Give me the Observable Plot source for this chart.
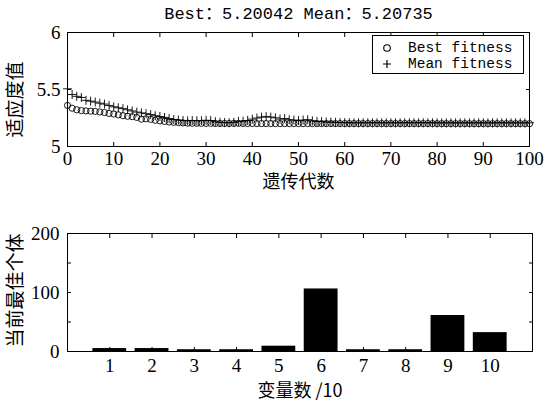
<!DOCTYPE html>
<html>
<head>
<meta charset="utf-8">
<script src="https://cdn.jsdelivr.net/npm/d3@7"></script>
<script src="https://cdn.jsdelivr.net/npm/@observablehq/plot@0.6"></script>
<style>
  html, body { margin: 0; padding: 0; background: #fff; }
  #wrap { position: relative; width: 547px; height: 404px; background: #fff; overflow: hidden; }
  #top { position: absolute; left: 0; top: 0; }
  #bottom { position: absolute; left: 0; top: 200px; }
  #legend { position: absolute; left: 372px; top: 35px; width: 150px; height: 37px; border: 1px solid #000; background: #fff;
            font-family: 'Liberation Mono', 'DejaVu Sans Mono', monospace; font-size: 14.5px; color: #000; }
  #legend .row { position: absolute; left: 0; height: 16px; line-height: 16px; white-space: pre; }
  #legend svg { position: absolute; left: 7px; top: 1px; }
  #legend span { position: absolute; left: 35px; top: 0; }
</style>
</head>
<body>
<div id="wrap">
  <div id="top"></div>
  <div id="bottom"></div>
  <div id="legend">
    <div class="row" style="top:4px"><svg width="14" height="14"><circle cx="7" cy="7" r="3.3" fill="none" stroke="#000" stroke-width="1.1"/></svg><span>Best fitness</span></div>
    <div class="row" style="top:20px"><svg width="14" height="14"><path d="M7,3V11M3,7H11" stroke="#000" stroke-width="1.2"/></svg><span>Mean fitness</span></div>
  </div>
</div>
<script>
// ---------- data ----------
const titleText = "Best：5.20042 Mean：5.20735";
const seriesNames = ["Best fitness", "Mean fitness"];

const bestFitness = [
  5.360, 5.336, 5.322, 5.315, 5.312, 5.310, 5.308, 5.303, 5.298, 5.290,
  5.285, 5.278, 5.270, 5.265, 5.262, 5.255, 5.240, 5.243, 5.238, 5.230,
  5.225, 5.220, 5.215, 5.212, 5.210, 5.207, 5.205, 5.204, 5.204, 5.203,
  5.203, 5.203, 5.202, 5.202, 5.202, 5.202, 5.203, 5.203, 5.202, 5.202,
  5.202, 5.201, 5.201, 5.201, 5.201, 5.201, 5.201, 5.201, 5.201, 5.201,
  5.201, 5.201, 5.201, 5.201, 5.201, 5.201, 5.201, 5.201, 5.201, 5.201,
  5.201, 5.201, 5.201, 5.201, 5.201, 5.201, 5.201, 5.201, 5.201, 5.201,
  5.201, 5.201, 5.201, 5.201, 5.201, 5.201, 5.201, 5.201, 5.201, 5.201,
  5.2004, 5.2004, 5.2004, 5.2004, 5.2004, 5.2004, 5.2004, 5.2004, 5.2004, 5.2004,
  5.2004, 5.2004, 5.2004, 5.2004, 5.2004, 5.2004, 5.2004, 5.2004, 5.2004, 5.2004,
  5.2004
];

const meanFitness = [
  5.506, 5.456, 5.440, 5.430, 5.405, 5.398, 5.390, 5.380, 5.372, 5.360,
  5.348, 5.340, 5.332, 5.322, 5.312, 5.302, 5.295, 5.288, 5.280, 5.270,
  5.263, 5.255, 5.245, 5.237, 5.232, 5.228, 5.225, 5.228, 5.226, 5.226,
  5.230, 5.228, 5.218, 5.212, 5.210, 5.208, 5.212, 5.220, 5.222, 5.228,
  5.240, 5.250, 5.258, 5.262, 5.258, 5.252, 5.240, 5.245, 5.235, 5.232,
  5.228, 5.232, 5.235, 5.225, 5.220, 5.218, 5.215, 5.214, 5.212, 5.210,
  5.209, 5.208, 5.208, 5.208, 5.208, 5.208, 5.208, 5.208, 5.208, 5.208,
  5.208, 5.208, 5.208, 5.208, 5.208, 5.208, 5.208, 5.208, 5.208, 5.208,
  5.2074, 5.2074, 5.2074, 5.2074, 5.2074, 5.2074, 5.2074, 5.2074, 5.2074, 5.2074,
  5.2074, 5.2074, 5.2074, 5.2074, 5.2074, 5.2074, 5.2074, 5.2074, 5.2074, 5.2074,
  5.2074
];

const topXTicks = [0, 10, 20, 30, 40, 50, 60, 70, 80, 90, 100];
const topYTicks = [5, 5.5, 6];
const topXLabel = "遗传代数";
const topYLabel = "适应度值";

const barCategories = [1, 2, 3, 4, 5, 6, 7, 8, 9, 10];
const barValues = [5, 5, 3, 3, 9, 106, 3, 3, 61, 32];
const bottomYTicks = [0, 50, 100, 150, 200];
const bottomYLabelTicks = [0, 100, 200];
const bottomXLabel = "变量数 /10";
const bottomYLabel = "当前最佳个体";

// ---------- build ----------
const genData = bestFitness.map((v, i) => ({gen: i, best: v, mean: meanFitness[i]}));
const barData = barCategories.map((k, i) => ({k, v: barValues[i]}));

const serif = "'Liberation Serif', 'Noto Sans CJK SC', serif";
const cjk = "'Noto Sans CJK SC', 'Liberation Serif', serif";

const topPlot = Plot.plot({
  width: 547, height: 200,
  marginTop: 32, marginBottom: 54, marginLeft: 67, marginRight: 18,
  style: {fontFamily: serif, fontSize: "19px", background: "transparent", color: "#000"},
  x: {domain: [0, 100]},
  y: {domain: [5, 6]},
  marks: [
    Plot.dot(genData, {x: "gen", y: "best", symbol: "circle", r: 3.1, stroke: "#000", strokeWidth: 0.9, fill: "none"}),
    Plot.dot(genData, {x: "gen", y: "mean", symbol: "plus", r: 3, stroke: "#000", strokeWidth: 0.9}),
    Plot.frame({stroke: "#000", strokeWidth: 1}),
    Plot.axisX({ticks: topXTicks, tickSize: -4, text: null, label: null}),
    Plot.axisX({anchor: "top", ticks: topXTicks, tickSize: -4, text: null, label: null}),
    Plot.axisX({ticks: topXTicks, tickSize: 0, tickPadding: 5, tickFormat: d => String(d), fontSize: 19, label: null}),
    Plot.axisY({ticks: topYTicks, tickSize: -4, text: null, label: null}),
    Plot.axisY({anchor: "right", ticks: topYTicks, tickSize: -4, text: null, label: null}),
    Plot.axisY({ticks: topYTicks, tickSize: 0, tickPadding: 7, tickFormat: d => String(d), fontSize: 19, label: null}),
    Plot.text([titleText], {frameAnchor: "top", dy: -19, lineAnchor: "middle", fontFamily: "'Liberation Mono', 'Noto Sans CJK SC', monospace", fontSize: 17}),
    Plot.text([topXLabel], {frameAnchor: "bottom", dy: 36, lineAnchor: "middle", fontFamily: cjk, fontSize: 18}),
    Plot.text([topYLabel], {frameAnchor: "left", textAnchor: "middle", dx: -52, dy: 10, rotate: -90, lineAnchor: "middle", fontFamily: cjk, fontSize: 19})
  ]
});
document.getElementById("top").appendChild(topPlot);

const bottomPlot = Plot.plot({
  width: 547, height: 204,
  marginTop: 33, marginBottom: 53, marginLeft: 67, marginRight: 15,
  style: {fontFamily: serif, fontSize: "19px", background: "transparent", color: "#000"},
  x: {domain: [0, 11]},
  y: {domain: [0, 200]},
  marks: [
    Plot.rectY(barData, {x1: d => d.k - 0.4, x2: d => d.k + 0.4, y: "v", fill: "#000"}),
    Plot.frame({stroke: "#000", strokeWidth: 1}),
    Plot.axisX({ticks: barCategories, tickSize: -4, text: null, label: null}),
    Plot.axisX({anchor: "top", ticks: barCategories, tickSize: -4, text: null, label: null}),
    Plot.axisX({ticks: barCategories, tickSize: 0, tickPadding: 7, tickFormat: d => String(d), fontSize: 19, label: null}),
    Plot.axisY({ticks: bottomYTicks, tickSize: -4, text: null, label: null}),
    Plot.axisY({anchor: "right", ticks: bottomYTicks, tickSize: -4, text: null, label: null}),
    Plot.axisY({ticks: bottomYLabelTicks, tickSize: 0, tickPadding: 8, tickFormat: d => String(d), fontSize: 19, label: null}),
    Plot.text([bottomXLabel], {frameAnchor: "bottom", dy: 40, lineAnchor: "middle", fontFamily: cjk, fontSize: 18}),
    Plot.text([bottomYLabel], {frameAnchor: "left", textAnchor: "middle", dx: -52, dy: -2, rotate: -90, lineAnchor: "middle", fontFamily: cjk, fontSize: 19})
  ]
});
document.getElementById("bottom").appendChild(bottomPlot);
</script>
</body>
</html>
